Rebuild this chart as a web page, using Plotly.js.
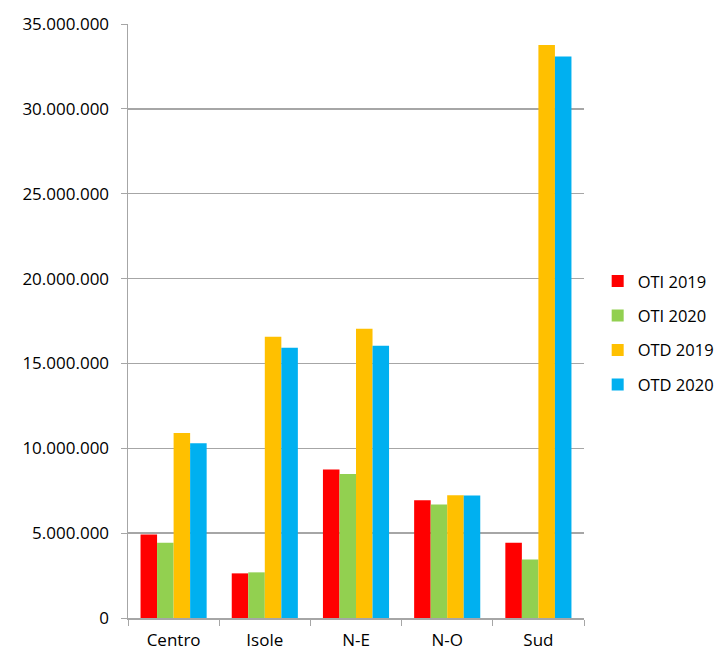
<!DOCTYPE html>
<html>
<head>
<meta charset="utf-8">
<script src="https://cdn.plot.ly/plotly-3.0.1.min.js"></script>
<style>html,body{margin:0;padding:0;background:#fff;}#chart{width:722px;height:653px;}</style>
</head>
<body>
<div id="chart"></div>
<script>
const categories = ["Centro", "Isole", "N-E", "N-O", "Sud"];
const seriesNames = ["OTI 2019", "OTI 2020", "OTD 2019", "OTD 2020"];
const oti2019 = [4920000, 2630000, 8750000, 6940000, 4440000];
const oti2020 = [4440000, 2690000, 8480000, 6690000, 3440000];
const otd2019 = [10900000, 16570000, 17050000, 7240000, 33760000];
const otd2020 = [10290000, 15920000, 16040000, 7220000, 33090000];
const colors = ["#ff0000", "#92d050", "#ffc000", "#00b0f0"];
const values = [oti2019, oti2020, otd2019, otd2020];

const traces = values.map((v, i) => ({
  type: "bar",
  name: seriesNames[i],
  x: categories,
  y: v,
  legendgroup: "g" + i,
  marker: {color: colors[i], line: {width: 0}},
  hoverinfo: "x+y+name"
}));

const layout = {
  width: 722,
  height: 653,
  margin: {l: 128, r: 138, t: 24, b: 35, autoexpand: false},
  paper_bgcolor: "#ffffff",
  plot_bgcolor: "#ffffff",
  separators: ",.",
  font: {family: "'Open Sans', sans-serif", size: 17, color: "#000000"},
  barmode: "group",
  bargap: 0.275,
  bargroupgap: 0,
  showlegend: true,
  legend: {
    x: 1.03, xanchor: "left", xref: "paper",
    y: 0.48, yanchor: "middle",
    font: {size: 16.5, color: "#000000"},
    tracegroupgap: 10,
    itemwidth: 30,
    bgcolor: "rgba(0,0,0,0)"
  },
  xaxis: {
    type: "category",
    showline: true,
    linecolor: "#a6a6a6",
    linewidth: 1.5,
    ticks: "outside",
    tickson: "boundaries",
    ticklen: 6,
    tickcolor: "#a6a6a6",
    showgrid: false,
    tickfont: {size: 17},
    zeroline: false,
    ticklabelstandoff: 6
  },
  yaxis: {
    range: [0, 35000000],
    dtick: 5000000,
    tick0: 0,
    tickformat: ",d",
    showline: true,
    linecolor: "#a6a6a6",
    linewidth: 1.5,
    ticks: "outside",
    ticklen: 6,
    tickcolor: "#a6a6a6",
    showgrid: true,
    gridcolor: "#a6a6a6",
    gridwidth: 1.5,
    zeroline: false,
    tickfont: {size: 17},
    ticklabelstandoff: 8
  }
};

Plotly.newPlot("chart", traces, layout, {displayModeBar: false, staticPlot: true});
</script>
</body>
</html>
